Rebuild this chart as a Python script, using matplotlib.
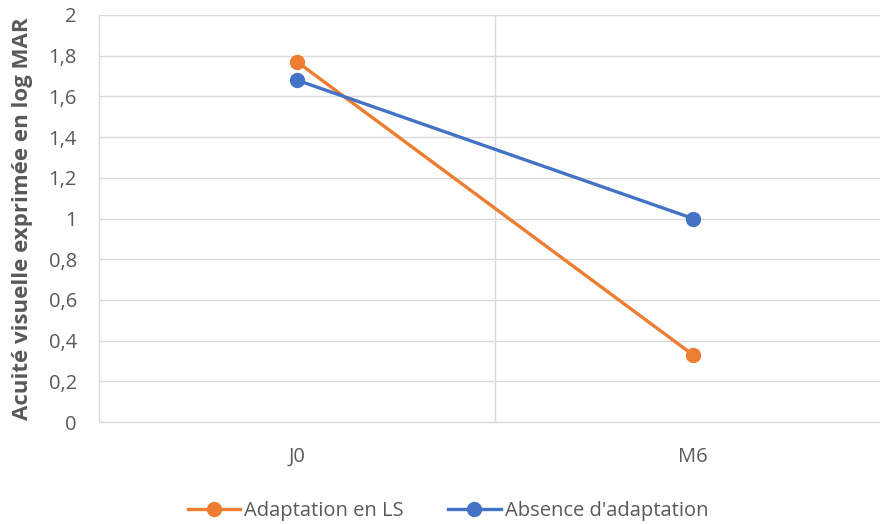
import matplotlib
matplotlib.use("Agg")
import matplotlib.pyplot as plt
from matplotlib.ticker import FuncFormatter

categories = ["J0", "M6"]
adaptation_ls = [1.77, 0.33]
absence_adaptation = [1.68, 1.00]
series_names = ["Adaptation en LS", "Absence d'adaptation"]
y_label = "Acuité visuelle exprimée en log MAR"

plt.rcParams['font.family'] = ['Open Sans', 'DejaVu Sans']
txt = '#595959'
grid = '#d9d9d9'

fig = plt.figure(figsize=(8.8, 5.24), dpi=100)
ax = fig.add_axes([99/880, 1-422/524, (891-99)/880, (422-15)/524])

x = list(range(len(categories)))
ax.plot(x, adaptation_ls, color='#ED7D31', lw=2.4, marker='o', ms=10, label=series_names[0], zorder=3)
ax.plot(x, absence_adaptation, color='#4472C4', lw=2.4, marker='o', ms=10, label=series_names[1], zorder=3)

ax.set_xlim(-0.5, len(categories) - 0.5)
ax.set_ylim(0, 2)
ax.set_yticks([i * 0.2 for i in range(11)])
ax.yaxis.set_major_formatter(FuncFormatter(lambda v, p: ('%g' % round(v, 1)).replace('.', ',')))
ax.set_xticks(x)
ax.set_xticklabels(categories)
for i in range(len(categories)):
    ax.axvline(i + 0.5, color=grid, lw=1.0, zorder=1)
ax.grid(axis='y', color=grid, lw=1.0, zorder=1)
ax.set_axisbelow(True)
for s in ['top', 'right']:
    ax.spines[s].set_visible(False)
ax.spines['left'].set_color(grid)
ax.spines['bottom'].set_color(grid)
ax.spines['left'].set_linewidth(1.0)
ax.spines['bottom'].set_linewidth(1.0)
ax.tick_params(axis='both', length=0, colors=txt, labelsize=14.5)
ax.tick_params(axis='y', pad=16)
ax.tick_params(axis='x', pad=18)
ax.set_ylabel(y_label, fontsize=16, fontweight='bold', color=txt)
ax.yaxis.set_label_coords(-0.083, 0.5)

leg = fig.legend(loc='center', bbox_to_anchor=(448/880, 1-511/524), ncol=2, frameon=False,
                 fontsize=14.5, handlelength=2.6, columnspacing=2.2, handletextpad=0.2)
for t in leg.get_texts():
    t.set_color(txt)

fig.savefig('out.png', dpi=100)
